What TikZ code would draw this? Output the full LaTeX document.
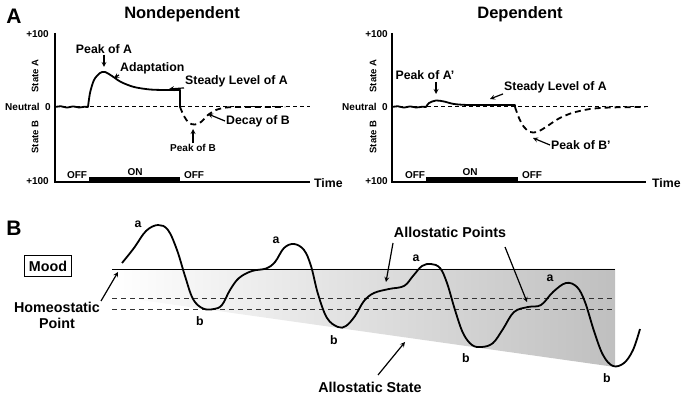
\documentclass[tikz,border=0pt]{standalone}
\usepackage{fontspec}
\setmainfont{Liberation Sans}
\usetikzlibrary{positioning,calc}

\begin{document}
\begin{tikzpicture}[
      x=1pt, y=-1pt,
      every node/.style={inner sep=1pt, font=\bfseries\fontsize{12.3}{13}\selectfont},
      panel/.style={font=\bfseries\fontsize{21}{23}\selectfont},
      ttl/.style={font=\bfseries\fontsize{16.5}{18}\selectfont},
      small/.style={font=\bfseries\fontsize{10}{11}\selectfont},
      big/.style={font=\bfseries\fontsize{14.3}{16}\selectfont},
      axlbl/.style={font=\bfseries\fontsize{9.5}{11}\selectfont, rotate=90},
      axis/.style={line width=1.4pt},
      curve/.style={line width=1.8pt, line join=round},
      neutral/.style={line width=1pt, dash pattern=on 4pt off 3pt},
      onbar/.style={line width=5pt},
      pointer/.style={->, >=stealth, line width=1.2pt}
    ]
      \useasboundingbox (0,0) rectangle (686,398);

      % ---- A: nondependent ----
      \node[panel] (A) at (14,16) {A};
      \node[ttl] (t1) at (182,14) {Nondependent};
      \coordinate (o1) at (55,182);
      \coordinate (y1) at (55,33);
      \coordinate (x1) at (310,182);
      \draw[axis] (y1) -- (o1) -- (x1);
      \node[small, anchor=east] (top1) at (50,34) {+100};
      \node[small, anchor=east] (bot1) at (50,181) {+100};
      \node[anchor=west] (time1) at (313,183) {Time};
      \node[small, anchor=east] (neu1) at (52,107) {Neutral\ \ 0};
      \node[axlbl] (sa1) at (35,76) {State A};
      \node[axlbl] (sb1) at (35,137) {State B};
      \draw[neutral] (55,107) -- (310,107);
      \draw[onbar] (89,179.5) -- (180,179.5);
      \node[small] (off1) at (77,175) {OFF};
      \node[small] (on1) at (135,172) {ON};
      \node[small] (off1b) at (194,175) {OFF};
      \draw[curve] plot[smooth] coordinates {(55,107) (61,106.3) (67,107.6) (73,106.4) (79,107.5) (84,106.8) (88,107)}
        -- plot[smooth] coordinates {(88,107) (90,93) (94,80) (100,73) (105,72) (112,76) (121,82) (134,87) (150,89.5) (165,90) (180,90)}
        -- (180,107);
      \draw[curve, dash pattern=on 6pt off 4pt] plot[smooth] coordinates {(180,107) (184,116) (189,123) (195,124.5) (201,122) (208,115) (216,110) (226,107.5) (240,107) (285,107)};
      \coordinate (pkA) at (104,67);
      \coordinate (adA) at (114,78);
      \coordinate (stA) at (169,89);
      \coordinate (pkB) at (193,129);
      \coordinate (dcB) at (208,114);
      \node (lpkA) at (104,49) {Peak of A};
      \node[anchor=west] (ladA) at (119,68) {Adaptation};
      \node[anchor=west] (lstA) at (184,81) {Steady Level of A};
      \node[small] (lpkB) at (193,148) {Peak of B};
      \node[anchor=west] (ldcB) at (225,121) {Decay of B};
      \draw[pointer] (lpkA) -- (pkA);
      \draw[pointer] (ladA.south west) -- (adA);
      \draw[pointer] (lstA.south west) -- (stA);
      \draw[pointer] (lpkB) -- (pkB);
      \draw[pointer] (ldcB.west) -- (dcB);

      % ---- A: dependent ----
      \node[ttl] (t2) at (520,14) {Dependent};
      \coordinate (o2) at (392,182);
      \coordinate (y2) at (392,33);
      \coordinate (x2) at (646,182);
      \draw[axis] (y2) -- (o2) -- (x2);
      \node[small, anchor=east] (top2) at (389,34) {+100};
      \node[small, anchor=east] (bot2) at (389,181) {+100};
      \node[anchor=west] (time2) at (651,183) {Time};
      \node[small, anchor=east] (neu2) at (389,107) {Neutral\ \ 0};
      \node[axlbl] (sa2) at (373,76) {State A};
      \node[axlbl] (sb2) at (373,137) {State B};
      \draw[neutral] (392,107) -- (648,107);
      \draw[onbar] (426,179.5) -- (518,179.5);
      \node[small] (off2) at (415,175) {OFF};
      \node[small] (on2) at (470,172) {ON};
      \node[small] (off2b) at (532,175) {OFF};
      \draw[curve] plot[smooth] coordinates {(392,107) (398,106.3) (404,107.6) (410,106.4) (416,107.5) (422,106.8) (426,107)}
        -- plot[smooth] coordinates {(426,107) (429,103) (436,100.5) (444,101.5) (454,104) (468,105) (490,105) (515,105)}
        -- (515,107);
      \draw[curve, dash pattern=on 6pt off 4pt] plot[smooth] coordinates {(515,107) (519,118) (524,127) (530,132) (537,132) (546,127) (558,119) (572,113) (590,109) (610,107.5) (645,107)};
      \coordinate (pkA2) at (436,94);
      \coordinate (stA2) at (490,99);
      \coordinate (pkB2) at (533,138);
      \node (lpkA2) at (425,75) {Peak of A'};
      \node[anchor=west] (lstA2) at (503,87) {Steady Level of A};
      \node[anchor=west] (lpkB2) at (550,145) {Peak of B'};
      \draw[pointer] (436,82) -- (pkA2);
      \draw[pointer] (lstA2.south west) -- (stA2);
      \draw[pointer] (lpkB2.west) -- (pkB2);

      % ---- B: allostasis ----
      \node[panel] (B) at (14,228) {B};
      \shade[left color=white, right color=black!25] (112,269) -- (615,269) -- (615,367) -- (112,296) -- cycle;
      \draw[line width=0.9pt] (112,269) -- (615,269);
      \draw[line width=0.9pt, dash pattern=on 5pt off 4pt, black!80] (112,298) -- (615,298);
      \draw[line width=0.9pt, dash pattern=on 5pt off 4pt, black!80] (112,309) -- (615,309);
      \node[big, draw, line width=0.8pt, minimum width=47pt, minimum height=21pt, inner sep=0pt] (mood) at (48,266) {Mood};
      \draw[curve] plot[smooth, tension=0.6] coordinates {(122,263) (134,248) (146,231) (158,225) (168,230) (177,250) (185,276) (193,299) (203,308.5) (214,309) (222,305) (230,290) (239,278) (252,271) (266,268.5) (275,262) (284,248) (294,244) (304,250) (311,266) (318,294) (327,318) (338,327) (346,326) (355,316) (364,301) (374,293) (389,289) (404,286) (413,276) (422,266) (431,264) (440,268) (447,283) (455,310) (463,333) (472,345) (482,347) (493,343) (503,329) (514,312) (528,307) (541,305) (553,292) (566,283) (577,287) (585,302) (594,331) (603,355) (613,366) (624,363) (633,350) (640,329)};
      \node (a1) at (138,224) {a};
      \node (b1) at (200,321) {b};
      \node (a2) at (276,240) {a};
      \node (b2) at (334,340) {b};
      \node (a3) at (416,258) {a};
      \node (b3) at (466,358) {b};
      \node (a4) at (550,278) {a};
      \node (b4) at (607,378) {b};
      \node[big, align=center, inner sep=0pt] (home) at (57,315) {Homeostatic\\Point};
      \coordinate (hp) at (118,272);
      \draw[pointer] (101,301) -- (hp);
      \node[big] (allp) at (450,232) {Allostatic Points};
      \coordinate (ap1) at (386,282);
      \coordinate (ap2) at (527,302);
      \draw[pointer] (393,243) -- (ap1);
      \draw[pointer] (505,247) -- (ap2);
      \node[big] (alls) at (370,387) {Allostatic State};
      \coordinate (as) at (405,342);
      \draw[pointer] (378,375) -- (as);
\end{tikzpicture}
\end{document}
